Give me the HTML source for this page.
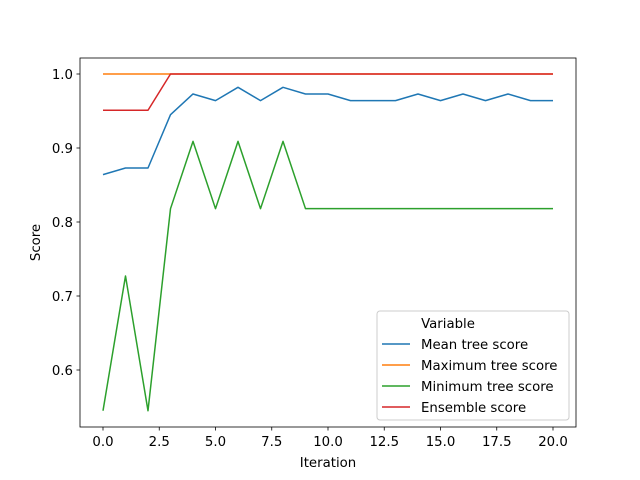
<!DOCTYPE html>
<html><head><meta charset="utf-8"><style>
body{margin:0;background:#fff;}
svg{display:block;font-family:"DejaVu Sans","Liberation Sans",sans-serif;}
</style></head><body>
<svg id="chart" width="640" height="480">
<g id="plot"></g>
</svg>
<script>
const iterations=[0,1,2,3,4,5,6,7,8,9,10,11,12,13,14,15,16,17,18,19,20];
const meanScore=[0.864,0.873,0.873,0.945,0.973,0.964,0.982,0.964,0.982,0.973,0.973,0.964,0.964,0.964,0.973,0.964,0.973,0.964,0.973,0.964,0.964];
const maxScore=[1,1,1,1,1,1,1,1,1,1,1,1,1,1,1,1,1,1,1,1,1];
const minScore=[0.545,0.727,0.545,0.818,0.909,0.818,0.909,0.818,0.909,0.818,0.818,0.818,0.818,0.818,0.818,0.818,0.818,0.818,0.818,0.818,0.818];
const ensembleScore=[0.951,0.951,0.951,1,1,1,1,1,1,1,1,1,1,1,1,1,1,1,1,1,1];
const xTicks=[0,2.5,5,7.5,10,12.5,15,17.5,20];
const xTickLabels=["0.0","2.5","5.0","7.5","10.0","12.5","15.0","17.5","20.0"];
const yTicks=[0.6,0.7,0.8,0.9,1.0];
const yTickLabels=["0.6","0.7","0.8","0.9","1.0"];
const seriesNames=["Mean tree score","Maximum tree score","Minimum tree score","Ensemble score"];
const seriesColors=["#1f77b4","#ff7f0e","#2ca02c","#d62728"];

const L=80,R=576,T=58,B=427;
const x=v=>103+(v-0)*22.5;
const y=v=>74+(1.0-v)*740;
const NS="http://www.w3.org/2000/svg";
const FS=13.3;
const g=document.getElementById('plot');
function mk(tag,attrs,parent){const e=document.createElementNS(NS,tag);for(const k in attrs)e.setAttribute(k,attrs[k]);(parent||g).appendChild(e);return e;}

const allSeries=[meanScore,maxScore,minScore,ensembleScore];
allSeries.forEach((s,i)=>{
  const p=mk('polyline',{points:s.map((v,j)=>x(iterations[j])+','+y(v)).join(' '),fill:'none',stroke:seriesColors[i],'stroke-width':1.5,'stroke-linejoin':'round'});
  
  
});
const fr=mk('rect',{x:L,y:T,width:R-L,height:B-T,fill:'none',stroke:'#000','stroke-width':0.8});


xTicks.forEach((v,i)=>{
  mk('line',{x1:x(v),x2:x(v),y1:B,y2:B+3.5,stroke:'#000','stroke-width':0.8});
  const t=mk('text',{x:x(v),y:B+19,'font-size':FS,'text-anchor':'middle'});t.textContent=xTickLabels[i];
  
  
});
yTicks.forEach((v,i)=>{
  mk('line',{x1:L-3.5,x2:L,y1:y(v),y2:y(v),stroke:'#000','stroke-width':0.8});
  const t=mk('text',{x:L-7,y:y(v)+5,'font-size':FS,'text-anchor':'end'});t.textContent=yTickLabels[i];
  
  
});
const xt=mk('text',{x:(L+R)/2,y:467,'font-size':FS,'text-anchor':'middle'});xt.textContent='Iteration';


const yt=mk('text',{x:0,y:0,'font-size':FS,'text-anchor':'middle',transform:'translate(40,'+((T+B)/2)+') rotate(-90)'});yt.textContent='Score';


const lg=mk('g',{});


mk('rect',{x:377,y:311,width:192,height:109,rx:3,fill:'#fff','fill-opacity':0.8,stroke:'#ccc','stroke-width':1},lg);
const lt=mk('text',{x:448,y:328,'font-size':FS,'text-anchor':'middle'},lg);lt.textContent='Variable';
seriesNames.forEach((n,i)=>{
  const yy=344+i*21;
  mk('line',{x1:382,x2:410,y1:yy,y2:yy,stroke:seriesColors[i],'stroke-width':1.5},lg);
  const t=mk('text',{x:421,y:yy+5,'font-size':FS},lg);t.textContent=n;
  
  
});
</script>
</body></html>
